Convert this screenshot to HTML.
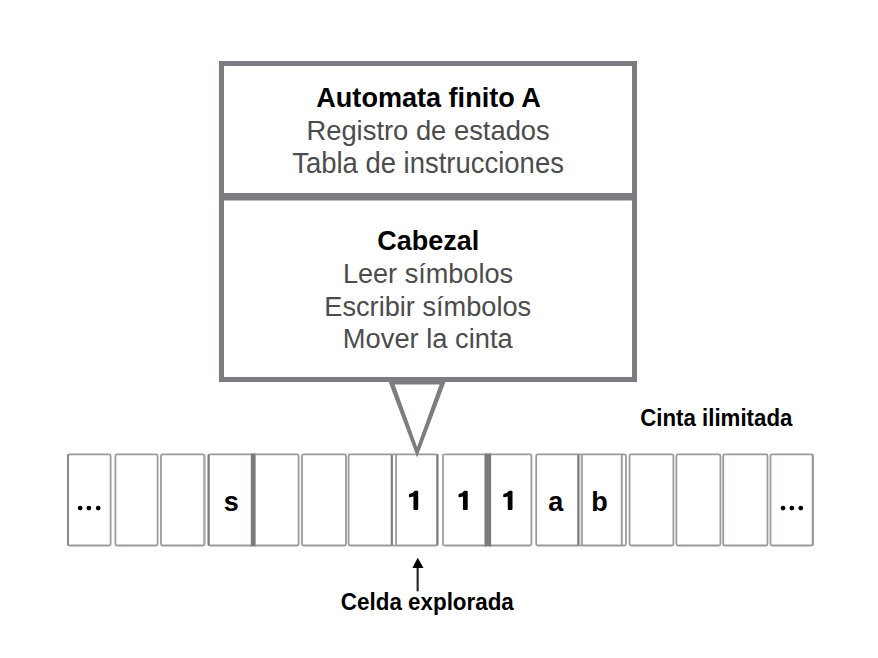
<!DOCTYPE html>
<html><head><meta charset="utf-8"><style>
html,body{margin:0;padding:0;background:#fff;width:878px;height:658px;overflow:hidden}
svg{position:absolute;left:0;top:0;font-family:"Liberation Sans",sans-serif}
</style></head><body>
<svg width="878" height="658" viewBox="0 0 878 658">
<rect x="68" y="454.4" width="42.60" height="91.10" rx="1.5" fill="none" stroke="#9a9b9e" stroke-width="1.8"/>
<rect x="115.4" y="454.4" width="42.20" height="91.10" rx="1.5" fill="none" stroke="#9a9b9e" stroke-width="1.8"/>
<rect x="161" y="454.4" width="43.40" height="91.10" rx="1.5" fill="none" stroke="#9a9b9e" stroke-width="1.8"/>
<rect x="208.6" y="454.4" width="44.60" height="91.10" rx="1.5" fill="none" stroke="#9a9b9e" stroke-width="1.8"/>
<rect x="253.2" y="454.4" width="45.40" height="91.10" rx="1.5" fill="none" stroke="#9a9b9e" stroke-width="1.8"/>
<rect x="302" y="454.4" width="44.00" height="91.10" rx="1.5" fill="none" stroke="#9a9b9e" stroke-width="1.8"/>
<rect x="348.6" y="454.4" width="43.20" height="91.10" rx="1.5" fill="none" stroke="#9a9b9e" stroke-width="1.8"/>
<rect x="396" y="454.4" width="41.40" height="91.10" rx="1.5" fill="none" stroke="#9a9b9e" stroke-width="1.8"/>
<rect x="443" y="454.4" width="44.80" height="91.10" rx="1.5" fill="none" stroke="#9a9b9e" stroke-width="1.8"/>
<rect x="487.8" y="454.4" width="43.60" height="91.10" rx="1.5" fill="none" stroke="#9a9b9e" stroke-width="1.8"/>
<rect x="536.2" y="454.4" width="42.20" height="91.10" rx="1.5" fill="none" stroke="#9a9b9e" stroke-width="1.8"/>
<rect x="581.8" y="454.4" width="44.10" height="91.10" rx="1.5" fill="none" stroke="#9a9b9e" stroke-width="1.8"/>
<rect x="629.6" y="454.4" width="43.80" height="91.10" rx="1.5" fill="none" stroke="#9a9b9e" stroke-width="1.8"/>
<rect x="676.4" y="454.4" width="44.00" height="91.10" rx="1.5" fill="none" stroke="#9a9b9e" stroke-width="1.8"/>
<rect x="723.2" y="454.4" width="44.30" height="91.10" rx="1.5" fill="none" stroke="#9a9b9e" stroke-width="1.8"/>
<rect x="770.5" y="454.4" width="42.30" height="91.10" rx="1.5" fill="none" stroke="#9a9b9e" stroke-width="1.8"/>
<rect x="203.4" y="454.4" width="2" height="91.10" fill="#a8a9ac"/>
<rect x="207.6" y="454.4" width="2" height="91.10" fill="#7a7b7f"/>
<rect x="390.8" y="454.4" width="2" height="91.10" fill="#7a7b7f"/>
<rect x="395" y="454.4" width="2" height="91.10" fill="#a8a9ac"/>
<rect x="436.4" y="454.4" width="2" height="91.10" fill="#7a7b7f"/>
<rect x="442" y="454.4" width="2" height="91.10" fill="#a8a9ac"/>
<rect x="577.4" y="454.4" width="2" height="91.10" fill="#7a7b7f"/>
<rect x="580.8" y="454.4" width="2" height="91.10" fill="#a8a9ac"/>
<rect x="67" y="454.4" width="2" height="91.10" fill="#88898c"/>
<rect x="811.8" y="454.4" width="2" height="91.10" fill="#9a9b9e"/>
<rect x="250.80" y="453.50" width="4.8" height="92.90" fill="#7a7b7f"/>
<rect x="484.45" y="453.50" width="6.7" height="92.90" fill="#7a7b7f"/>
<rect x="390.8" y="453.50" width="6.20" height="1.8" fill="#9a9b9e"/>
<rect x="390.8" y="544.60" width="6.20" height="1.8" fill="#9a9b9e"/>
<rect x="577.4" y="453.50" width="5.40" height="1.8" fill="#9a9b9e"/>
<rect x="577.4" y="544.60" width="5.40" height="1.8" fill="#9a9b9e"/>
<rect x="620.8" y="454.4" width="2" height="91.10" fill="#9a9b9e"/>
<rect x="221.5" y="63.5" width="413" height="316" fill="#fff" stroke="#7c7d82" stroke-width="5"/>
<rect x="219" y="193" width="418" height="7.5" fill="#7c7d82"/>
<path d="M387.6 379 L446.6 379 L417.1 457.6 Z M394.6 384.6 L439.6 384.6 L417.1 447 Z" fill="#7c7d82" fill-rule="evenodd"/>
<rect x="416.6" y="566" width="2.1" height="25.3" fill="#222"/>
<path d="M412.4 568 L423.5 568 L417.7 557.8 Z" fill="#000"/>
<circle cx="80.2" cy="508.1" r="2.35" fill="#000"/>
<circle cx="88.9" cy="508.1" r="2.35" fill="#000"/>
<circle cx="98.2" cy="508.1" r="2.35" fill="#000"/>
<circle cx="783.0" cy="508.1" r="2.35" fill="#000"/>
<circle cx="791.9" cy="508.1" r="2.35" fill="#000"/>
<circle cx="800.8" cy="508.1" r="2.35" fill="#000"/>
<path d="M418.20 491.7 Q418.20 490.7 417.10 490.7 L414.65 490.7 Q413.25 493.2 409.85 493.8 Q408.95 494.0 408.95 495.0 L408.95 496.4 Q408.95 497.4 409.95 497.2 L413.45 496.6 L413.45 509.0 Q413.45 509.9 414.25 509.9 L417.40 509.9 Q418.20 509.9 418.20 509.0 Z" fill="#000"/>
<path d="M467.70 491.7 Q467.70 490.7 466.60 490.7 L464.15 490.7 Q462.75 493.2 459.35 493.8 Q458.45 494.0 458.45 495.0 L458.45 496.4 Q458.45 497.4 459.45 497.2 L462.95 496.6 L462.95 509.0 Q462.95 509.9 463.75 509.9 L466.90 509.9 Q467.70 509.9 467.70 509.0 Z" fill="#000"/>
<path d="M512.50 491.7 Q512.50 490.7 511.40 490.7 L508.95 490.7 Q507.55 493.2 504.15 493.8 Q503.25 494.0 503.25 495.0 L503.25 496.4 Q503.25 497.4 504.25 497.2 L507.75 496.6 L507.75 509.0 Q507.75 509.9 508.55 509.9 L511.70 509.9 Q512.50 509.9 512.50 509.0 Z" fill="#000"/>
<text transform="translate(428.54 107.20) scale(1 1.0)" font-size="27.078" font-weight="700" fill="#000" text-anchor="middle">Automata finito A</text>
<text transform="translate(428.08 140.00) scale(1 1.04)" font-size="27.370" font-weight="400" fill="#4c4c4c" text-anchor="middle">Registro de estados</text>
<text transform="translate(428.02 172.50) scale(1 1.04)" font-size="27.467" font-weight="400" fill="#4c4c4c" text-anchor="middle">Tabla de instrucciones</text>
<text transform="translate(428.30 249.70) scale(1 1.0)" font-size="26.974" font-weight="700" fill="#000" text-anchor="middle">Cabezal</text>
<text transform="translate(427.96 283.00) scale(1 1.04)" font-size="27.109" font-weight="400" fill="#4c4c4c" text-anchor="middle">Leer símbolos</text>
<text transform="translate(427.75 315.60) scale(1 1.04)" font-size="27.188" font-weight="400" fill="#4c4c4c" text-anchor="middle">Escribir símbolos</text>
<text transform="translate(427.75 348.00) scale(1 1.04)" font-size="27.287" font-weight="400" fill="#4c4c4c" text-anchor="middle">Mover la cinta</text>
<text transform="translate(716.28 426.10) scale(1 1.07)" font-size="22.278" font-weight="700" fill="#000" text-anchor="middle">Cinta ilimitada</text>
<text transform="translate(427.34 610.00) scale(1 1.07)" font-size="22.394" font-weight="700" fill="#000" text-anchor="middle">Celda explorada</text>
<text transform="translate(231.15 510.80) scale(1 1.0)" font-size="27.000" font-weight="700" fill="#000" text-anchor="middle">s</text>
<text transform="translate(555.88 510.50) scale(1 1.0)" font-size="27.000" font-weight="700" fill="#000" text-anchor="middle">a</text>
<text transform="translate(599.39 510.50) scale(1 1.0)" font-size="27.000" font-weight="700" fill="#000" text-anchor="middle">b</text>
</svg>
</body></html>
